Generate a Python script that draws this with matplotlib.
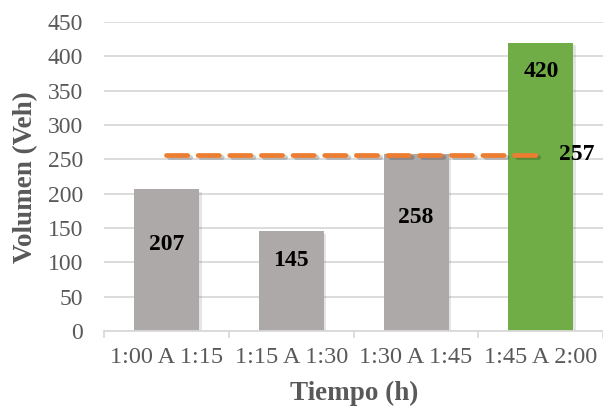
import numpy as np
import matplotlib.pyplot as plt
import matplotlib.patheffects as pe

periodos = ["1:00 A 1:15", "1:15 A 1:30", "1:30 A 1:45", "1:45 A 2:00"]
volumen = [207, 145, 258, 420]
promedio = 257
colores = ["#ADA9A8", "#ADA9A8", "#ADA9A8", "#70AD47"]
# desplazamiento de cada etiqueta bajo el borde superior de la barra (pt)
desp_etiq = [-40, -21, -46, -21]

plt.rcParams["font.family"] = ["Liberation Serif", "DejaVu Serif"]

fig = plt.figure(figsize=(6.03, 4.09), dpi=100)
ax = fig.add_axes([0.1725, 0.1907, 0.828, 0.7555])

x = np.arange(len(periodos))
barras = ax.bar(x, volumen, width=0.52, color=colores, zorder=2)
for b in barras:
    b.set_path_effects([pe.SimplePatchShadow(offset=(2, -2), alpha=0.15, shadow_rgbFace="#555555"), pe.Normal()])

ax.plot(x, [promedio] * len(x), color="#ED7D31", lw=3.4, ls=(0, (4.5, 2.2)),
        dash_capstyle="round", zorder=3,
        path_effects=[pe.SimpleLineShadow(offset=(2, -2), alpha=0.2), pe.Normal()])

for xi, v, d in zip(x, volumen, desp_etiq):
    ax.annotate(str(v), (xi, v), xytext=(0, d), textcoords="offset points",
                ha="center", va="center", fontsize=17, fontweight="bold", color="black", zorder=4)
ax.annotate(str(promedio), (x[-1], promedio), xytext=(26, 0), textcoords="offset points",
            ha="center", va="center", fontsize=17, fontweight="bold", color="black", zorder=4)

ax.set_ylim(0, 450)
ax.set_xlim(-0.5, 3.5)
ax.set_yticks(np.arange(0, 451, 50))
ax.yaxis.grid(True, color="#D9D9D9", lw=1.3, zorder=0)
ax.set_axisbelow(True)

ax.set_xticks(x)
ax.set_xticklabels(periodos)
ax.set_xticks(np.arange(-0.5, 3.6, 1), minor=True)
ax.tick_params(axis="x", which="major", length=0, pad=11.5, labelsize=17.5, labelcolor="#595959")
ax.tick_params(axis="x", which="minor", length=5, color="#D9D9D9", width=1.3)
ax.tick_params(axis="y", length=0, pad=15, labelsize=17, labelcolor="#595959")

for s in ["top", "right", "left"]:
    ax.spines[s].set_visible(False)
ax.spines["bottom"].set_color("#D9D9D9")
ax.spines["bottom"].set_linewidth(1.3)

# titulos de los ejes
fig.text(26 / 603, 1 - 177 / 409, "Volumen (Veh)", rotation=90, ha="center", va="center",
         fontsize=19.5, fontweight="bold", color="#595959")
fig.text(354 / 603, 1 - 393 / 409, "Tiempo (h)", ha="center", va="center",
         fontsize=19.5, fontweight="bold", color="#595959")

fig.savefig("out.png", dpi=100)
